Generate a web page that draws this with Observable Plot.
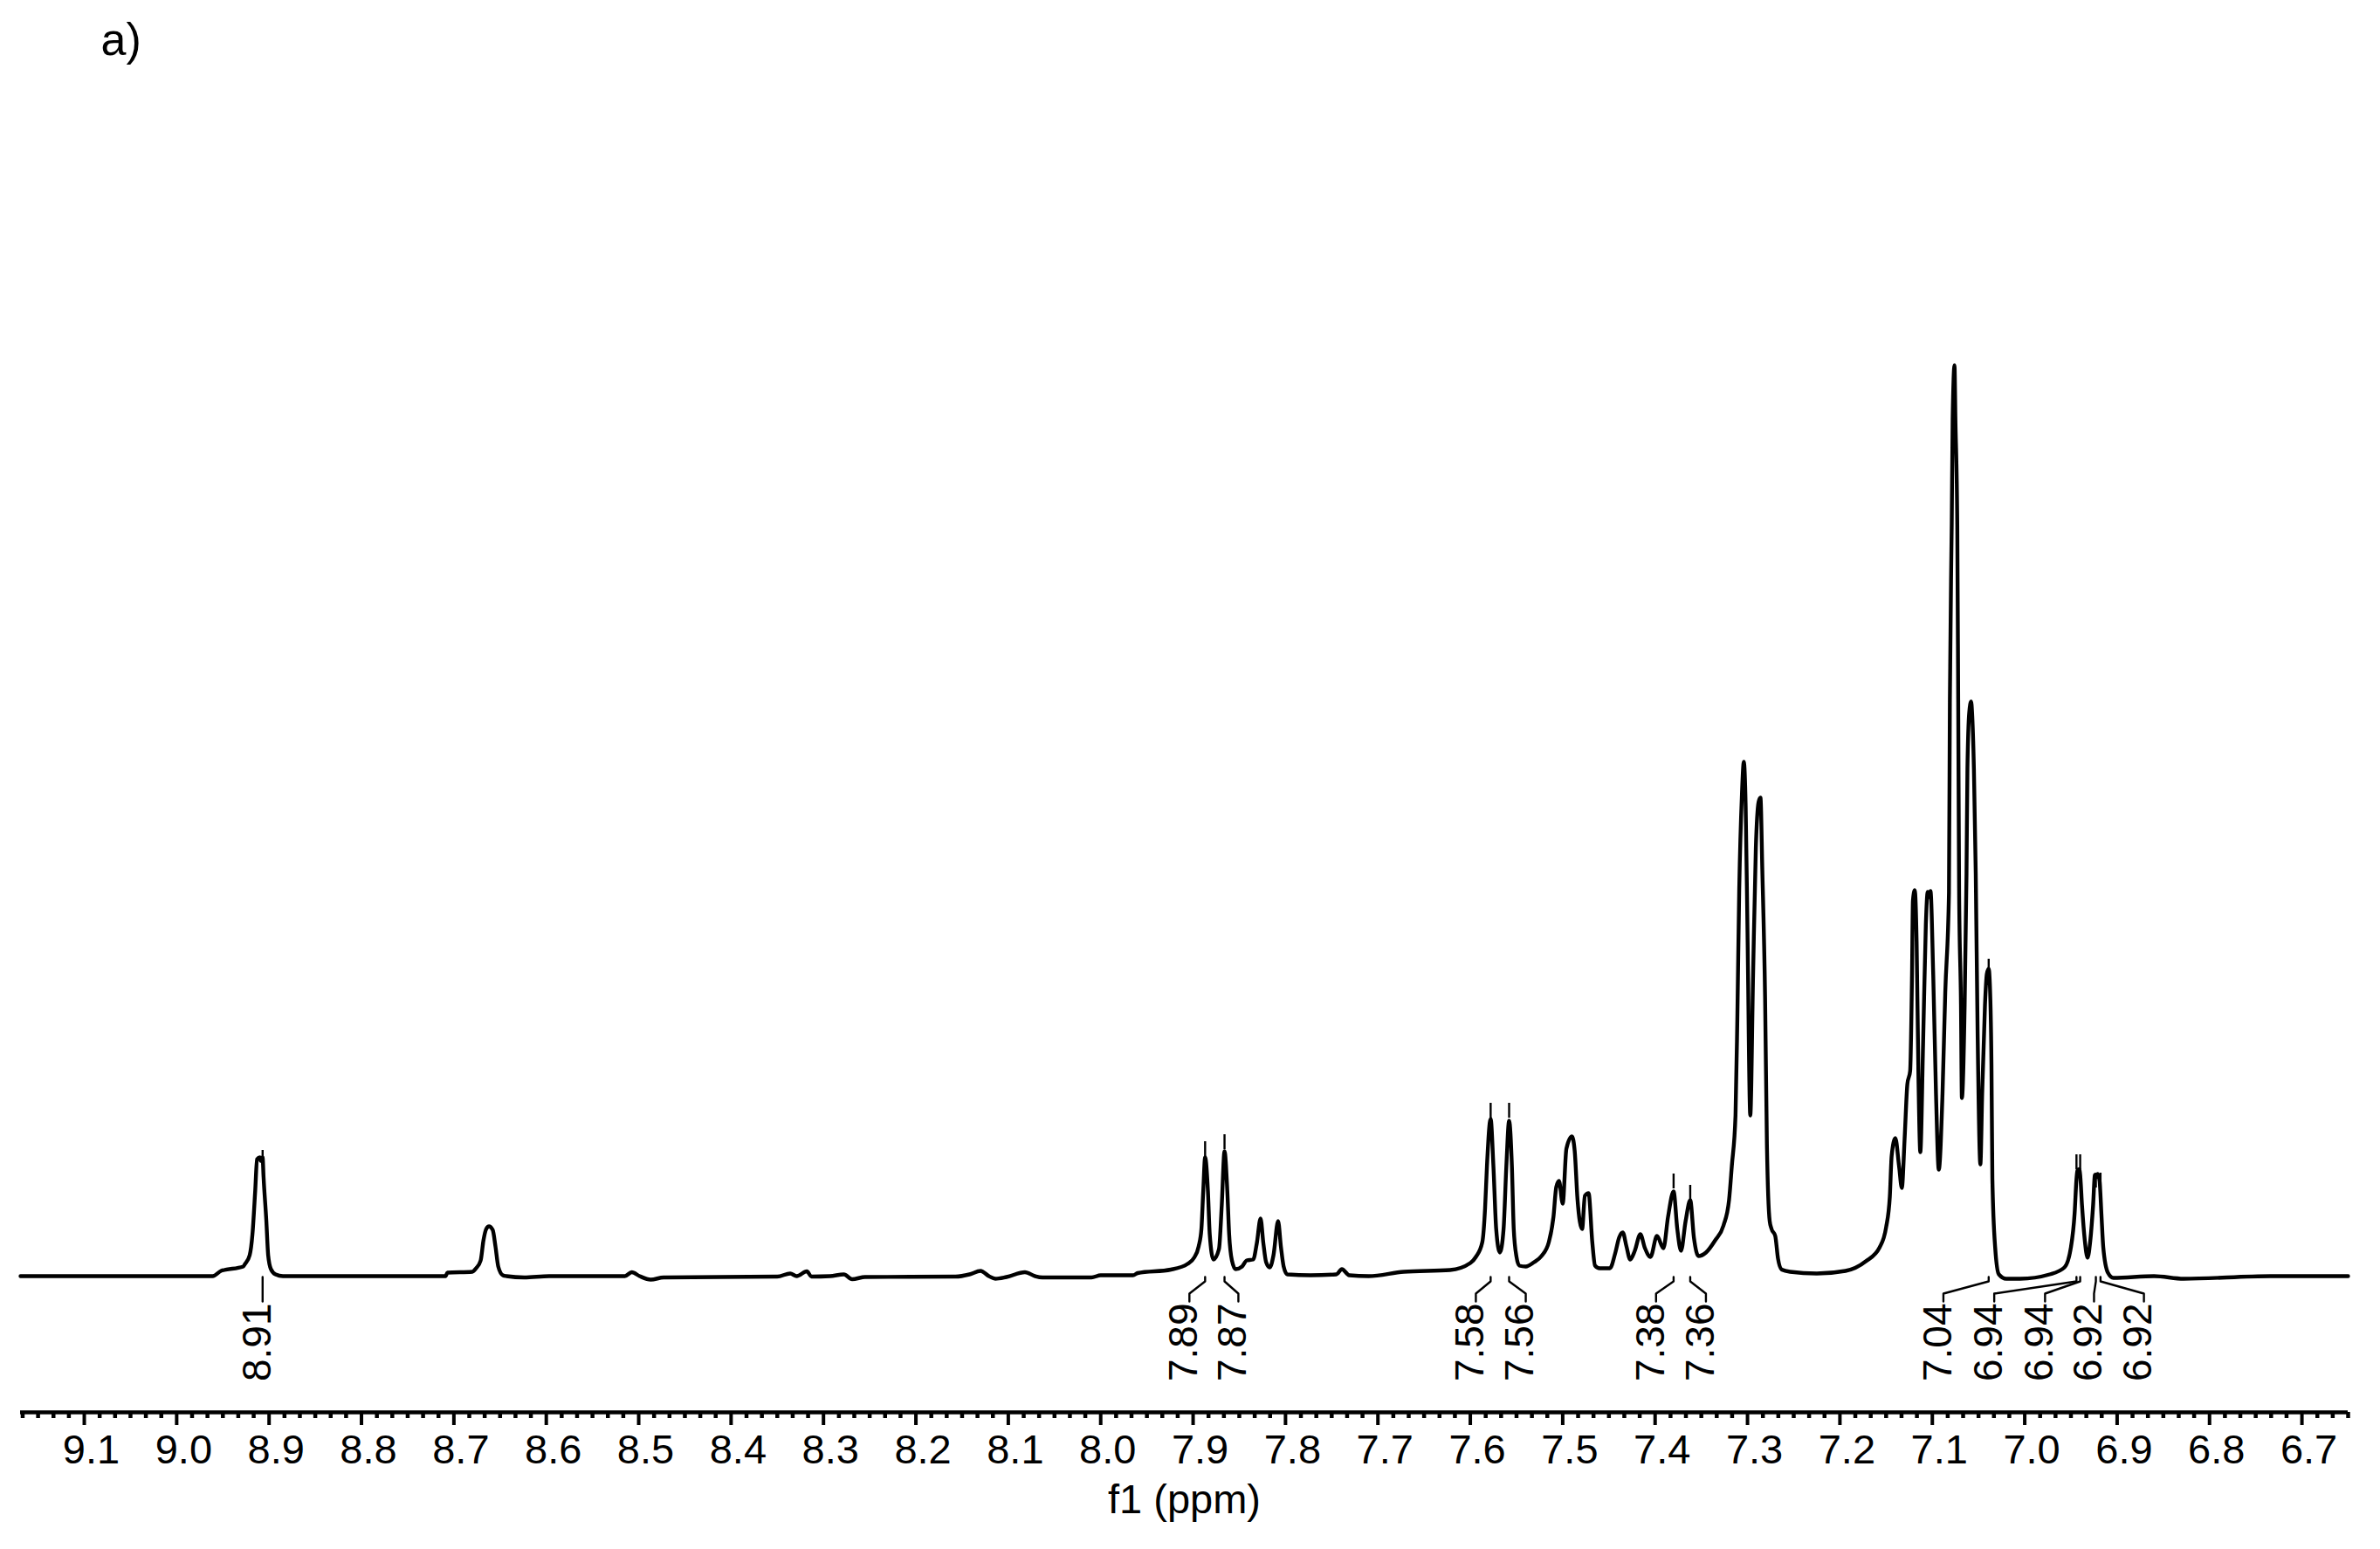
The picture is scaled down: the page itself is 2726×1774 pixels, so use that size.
<!DOCTYPE html>
<html>
<head>
<meta charset="utf-8">
<script src="https://cdn.jsdelivr.net/npm/d3@7"></script>
<script src="https://cdn.jsdelivr.net/npm/@observablehq/plot@0.6"></script>
<style>
  html, body { margin: 0; padding: 0; background: #ffffff; }
  #chart svg { display: block; }
</style>
</head>
<body>
<div id="chart"></div>
<script>
// ---- Spectrum trace (chemical shift in ppm, intensity in arbitrary units) ----
const spectrumPpm = [
  9.169, 8.961, 8.952, 8.928, 8.926, 8.921, 8.918, 8.915, 8.913, 8.910, 8.909, 8.907, 8.906, 8.903, 8.901, 8.898, 8.893, 8.885,
  8.709, 8.707, 8.680, 8.676, 8.671, 8.668, 8.665, 8.662, 8.658, 8.655, 8.652, 8.647, 8.643, 8.624, 8.597,
  8.515, 8.5075, 8.499, 8.487, 8.473, 8.350, 8.336, 8.329, 8.318, 8.313, 8.293, 8.278, 8.269, 8.255,
  8.157, 8.142, 8.130, 8.121, 8.114, 8.102, 8.082, 8.071, 8.063, 8.010, 8.000, 7.965, 7.960, 7.924,
  7.906, 7.899, 7.894, 7.891, 7.889, 7.887, 7.884, 7.882, 7.878, 7.872, 7.869, 7.866, 7.863, 7.861, 7.858, 7.854,
  7.847, 7.842, 7.835, 7.831, 7.827, 7.824, 7.821, 7.817, 7.813, 7.808, 7.805, 7.802, 7.798, 7.773, 7.745, 7.739, 7.731, 7.710,
  7.672, 7.622, 7.600, 7.594, 7.587, 7.584, 7.582, 7.578, 7.575, 7.572, 7.568, 7.564, 7.561, 7.558, 7.555, 7.553, 7.550, 7.547,
  7.540, 7.531, 7.523, 7.515, 7.510, 7.507, 7.504, 7.500, 7.496, 7.490, 7.487, 7.484, 7.479, 7.476, 7.472, 7.468, 7.465, 7.460,
  7.449, 7.443, 7.439, 7.435, 7.431, 7.427, 7.422, 7.416, 7.411, 7.405, 7.398, 7.391, 7.386, 7.380, 7.376, 7.372, 7.367, 7.362,
  7.358, 7.353, 7.345, 7.335, 7.326, 7.320, 7.317, 7.313, 7.311, 7.309, 7.306, 7.304, 7.302, 7.300, 7.297, 7.294, 7.291, 7.288,
  7.286, 7.284, 7.281, 7.279, 7.276, 7.274, 7.270, 7.267, 7.263, 7.254, 7.225, 7.194, 7.172, 7.157, 7.150, 7.146, 7.144, 7.140,
  7.136, 7.133, 7.130, 7.127, 7.124, 7.122, 7.121, 7.119, 7.117, 7.115, 7.113, 7.110, 7.107, 7.105, 7.104, 7.102, 7.099, 7.096,
  7.093, 7.089, 7.086, 7.082, 7.081, 7.079, 7.078, 7.076, 7.075, 7.073, 7.072, 7.071, 7.069, 7.068, 7.065, 7.063, 7.062, 7.060,
  7.058, 7.057, 7.055, 7.053, 7.051, 7.048, 7.046, 7.043, 7.041, 7.039, 7.038, 7.036, 7.035, 7.032, 7.028, 7.020, 7.005,
  6.973, 6.957, 6.950, 6.946, 6.944, 6.943, 6.941, 6.940, 6.938, 6.935, 6.932, 6.929, 6.926, 6.924, 6.923, 6.921, 6.919, 6.917,
  6.915, 6.910, 6.904, 6.860, 6.828, 6.734, 6.650
];
const spectrumIntensity = [
  0, 0, 6, 11, 14, 24, 48, 98, 134, 136, 132, 136, 114, 64, 24, 8, 2, 0,
  0, 4, 5, 9, 18, 41, 54, 57, 53, 34, 11, 1, 0, -1.5, 0,
  0, 4.5, 0, -4, -1.5, -0.5, 3, 0, 5.5, -0.5, 0, 2, -3.5, -1,
  -0.5, 2, 6, 0, -3, -1, 4.5, 0, -1.5, -1.5, 1, 1, 3.5, 7.5,
  14, 21, 34, 54, 98, 136, 98, 48, 19, 31, 81, 143, 98, 48, 18, 8,
  11, 18, 19, 38, 66, 38, 16, 10, 24, 63, 34, 11, 2, 1, 2, 8, 1, 0,
  5, 7, 15, 22, 39, 78, 126, 180, 126, 54, 27, 54, 126, 178, 126, 54, 22, 12,
  11, 16, 23, 39, 68, 102, 109, 83, 146, 160, 143, 88, 54, 92, 95, 39, 12, 9,
  9, 27, 44, 50, 34, 19, 29, 48, 32, 22, 46, 32, 68, 97, 54, 29, 63, 87,
  44, 23, 27, 41, 58, 87, 126, 184, 296, 441, 553, 589, 538, 393, 184, 344, 490, 543,
  548, 466, 320, 150, 63, 54, 46, 20, 7.5, 5, 3, 6, 17, 33, 56, 91, 138, 158,
  126, 101, 157, 220, 235, 344, 430, 442, 383, 227, 142, 266, 403, 440, 434, 441, 344, 208,
  122, 208, 325, 439, 661, 861, 981, 1043, 981, 861, 661, 439, 311, 204, 311, 461, 581, 646,
  658, 646, 581, 461, 281, 128, 211, 311, 346, 352, 341, 243, 111, 33, 2, -3, -3,
  2, 10, 33, 72, 111, 121, 122.5, 116, 81, 41, 21, 41, 81, 116, 113, 117, 109, 71,
  33, 4, -2, 0, -3, 0, 0
];

// ---- Peak picking annotations ----
const peakLabels       = ["8.91", "7.89", "7.87", "7.58", "7.56", "7.38", "7.36", "7.04", "6.94", "6.94", "6.92", "6.92"];
const peakPpm          = [8.907, 7.887, 7.866, 7.578, 7.558, 7.380, 7.362, 7.039, 6.944, 6.940, 6.923, 6.918];
const peakTopIntensity = [126, 136, 144, 180, 180, 99, 86, 345, 121, 121, 100, 100];
const labelPpm         = [8.907, 7.904, 7.851, 7.594, 7.540, 7.399, 7.345, 7.088, 7.033, 6.978, 6.925, 6.871];

// ---- Axis ----
const tickValues = [9.1, 9.0, 8.9, 8.8, 8.7, 8.6, 8.5, 8.4, 8.3, 8.2, 8.1, 8.0, 7.9, 7.8, 7.7, 7.6, 7.5, 7.4, 7.3, 7.2, 7.1, 7.0, 6.9, 6.8, 6.7];
const tickLabels = ["9.1", "9.0", "8.9", "8.8", "8.7", "8.6", "8.5", "8.4", "8.3", "8.2", "8.1", "8.0", "7.9", "7.8", "7.7", "7.6", "7.5", "7.4", "7.3", "7.2", "7.1", "7.0", "6.9", "6.8", "6.7"];
const axisTitle = "f1 (ppm)";
const panelTitle = "a)";

// ---- Build tables ----
const spectrum = spectrumPpm.map((p, i) => ({ppm: p, I: spectrumIntensity[i]}));
const peaks = peakLabels.map((t, i) => ({id: i, text: t, ppm: peakPpm[i], top: peakTopIntensity[i], lppm: labelPpm[i]}));
const connectors = peaks.flatMap(d => [
  {id: d.id, ppm: d.ppm, I: -1},
  {id: d.id, ppm: d.ppm, I: -6},
  {id: d.id, ppm: d.lppm, I: -20},
  {id: d.id, ppm: d.lppm, I: -29}
]);
const minorTicks = d3.range(399, 551).map(k => k / 60)
  .filter(v => Math.abs(v * 10 - Math.round(v * 10)) > 1e-6);

const FONT = "'Liberation Sans', Arial, Helvetica, sans-serif";

const chart = Plot.plot({
  width: 2726,
  height: 1774,
  marginLeft: 23,
  marginRight: 37,
  marginTop: 0,
  marginBottom: 157,
  x: {domain: [9.169, 6.650]},
  y: {domain: [-156, 1461], axis: null},
  style: {fontFamily: FONT, background: "#ffffff", color: "#000000", overflow: "visible"},
  marks: [
    // axis line
    Plot.ruleY([-156], {strokeWidth: 4.5, stroke: "#000"}),
    // minor ticks
    Plot.axisX(minorTicks, {anchor: "bottom", tickSize: 7, strokeWidth: 4.5, fill: "none", label: null}),
    // major ticks
    Plot.axisX(tickValues, {anchor: "bottom", tickSize: 15, strokeWidth: 4, fill: "none", label: null}),
    // tick labels
    Plot.axisX(tickValues, {
      anchor: "bottom", tickSize: 0, tickPadding: 25, fontSize: 47, dx: 8, label: null,
      tickFormat: d => tickLabels[tickValues.indexOf(d)]
    }),
    // axis title
    Plot.text([axisTitle], {frameAnchor: "bottom", dy: 82, lineAnchor: "top", text: d => d, fontSize: 47}),
    // panel label
    Plot.text([panelTitle], {frameAnchor: "top-left", dx: 92, dy: 62, lineAnchor: "bottom", textAnchor: "start", text: d => d, fontSize: 52}),
    // spectrum
    Plot.line(spectrum, {x: "ppm", y: "I", stroke: "#000", strokeWidth: 4.4, curve: "monotone-x"}),
    // peak ticks above the peaks
    Plot.ruleX(peaks, {x: "ppm", y1: d => d.top + 1, y2: d => d.top + 18, stroke: "#000", strokeWidth: 2.4}),
    // connectors
    Plot.line(connectors, {x: "ppm", y: "I", z: "id", stroke: "#000", strokeWidth: 2.4, curve: "linear"}),
    // peak labels
    Plot.text(peaks, {x: "lppm", y: () => -31, text: "text", rotate: -90, textAnchor: "end", fontSize: 46, dx: -6, fill: "#000"})
  ]
});

document.getElementById("chart").appendChild(chart);
</script>
</body>
</html>
